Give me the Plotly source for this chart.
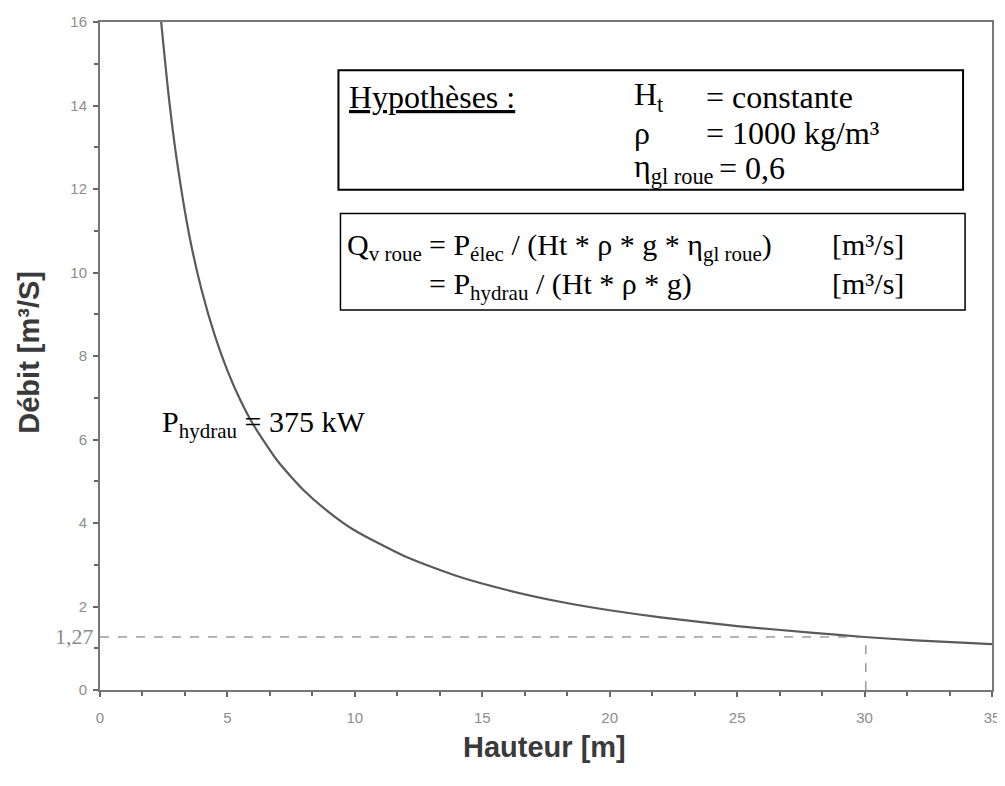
import plotly.graph_objects as go

# Curve: Hauteur [m] vs Débit [m³/s]
hauteur = [2.4, 2.7, 3.0, 3.5, 4.0, 4.5, 5.0, 5.5, 6.0, 7.0, 8.0, 9.0, 10.0,
           12.0, 14.0, 16.0, 18.0, 20.0, 22.0, 25.0, 28.0, 30.0, 32.0, 35.0]
debit = [16.0, 14.2, 12.75, 10.9, 9.55, 8.5, 7.65, 6.95, 6.37, 5.46, 4.78, 4.25, 3.82,
         3.19, 2.73, 2.39, 2.12, 1.91, 1.74, 1.53, 1.37, 1.27, 1.19, 1.1]

# Marked operating point
point_h = [30.05]
point_q = [1.27]

x_ticks = [0, 5, 10, 15, 20, 25, 30, 35]
y_ticks = [0, 2, 4, 6, 8, 10, 12, 14, 16]

# the page has an 8px body margin: figure origin sits at (8, 8) in the window
OFF = 8
W, H = 1005 - OFF, 786 - OFF
PLOT_L, PLOT_R, PLOT_T, PLOT_B = 100, 994, 13, 690  # window pixels
L = PLOT_L - OFF
T = PLOT_T - OFF
R = W - (PLOT_R - OFF)
B = H - (PLOT_B - OFF)
PW, PH = W - L - R, H - T - B


def px(x):
    return (x - OFF - L) / PW


def py(y):
    return (H - B - (y - OFF)) / PH


fig = go.Figure()

fig.add_trace(go.Scatter(
    x=hauteur, y=debit, mode="lines",
    line=dict(color="#5a5a5a", width=2.2, shape="spline", smoothing=0.6),
    hoverinfo="x+y", showlegend=False,
))

# dashed guide lines to the marked point
fig.add_trace(go.Scatter(
    x=[0, point_h[0], point_h[0]], y=[point_q[0], point_q[0], 0], mode="lines",
    line=dict(color="#6a6a6a", width=1, dash="dash"),
    hoverinfo="skip", showlegend=False,
))

serif = "Liberation Serif, Times New Roman, serif"
FS = 32
ann = []


def txt(text, x, y, size=FS, color="black", xanchor="left", yanchor="middle", font=serif):
    ann.append(dict(text=text, x=px(x), y=py(y), xref="paper", yref="paper",
                    xanchor=xanchor, yanchor=yanchor, align="left", showarrow=False,
                    font=dict(family=font, size=size, color=color)))


# Box 1
txt("<u>Hypothèses :</u>", 348, 89)
txt("H<sub>t</sub>", 633, 89)
txt("= constante", 705, 89)
txt("ρ", 633, 126)
txt("= 1000 kg/m³", 705, 126)
txt("η<sub>gl roue</sub>", 633, 161)
txt("= 0,6", 718, 161)

# Box 2
txt("Q<sub>v roue</sub>", 346, 220, size=30, yanchor="top")
txt("= P<sub>élec</sub> / (Ht * ρ * g * η<sub>gl roue</sub>)<br>= P<sub>hydrau</sub> / (Ht * ρ * g)",
    428, 220, size=30, yanchor="top")
txt("[m³/s]<br>[m³/s]", 832, 220, size=30, yanchor="top")

# curve label
txt("P<sub>hydrau</sub> = 375 kW", 160, 420, size=30)

# 1,27 label
txt("1,27", 96, 636, size=22, color="#8a8a8a", xanchor="right")

# axis titles
sans = "Liberation Sans, Arial, sans-serif"
ann.append(dict(text="<b>Hauteur [m]</b>", x=px(545), y=py(748), xref="paper", yref="paper",
                xanchor="center", yanchor="middle", showarrow=False,
                font=dict(family=sans, size=29, color="#3a3a3a")))
ann.append(dict(text="<b>Débit [m³/S]</b>", x=px(28), y=py(348), xref="paper", yref="paper",
                xanchor="center", yanchor="middle", showarrow=False, textangle=-90,
                font=dict(family=sans, size=29, color="#3a3a3a")))

shapes = [
    dict(type="rect", xref="paper", yref="paper", x0=px(339), x1=px(965), y0=py(62), y1=py(183),
         line=dict(color="black", width=2), fillcolor="white", layer="below"),
    dict(type="rect", xref="paper", yref="paper", x0=px(341), x1=px(967), y0=py(207), y1=py(305),
         line=dict(color="black", width=1.5), fillcolor="white", layer="below"),
]

axis_common = dict(
    showgrid=False, zeroline=False, showline=True, mirror=True,
    linecolor="#777777", linewidth=2, ticks="outside", ticklen=5,
    tickcolor="#666666", tickwidth=1.5, ticklabeloverflow="allow",
    tickfont=dict(family=sans, size=15, color="#8c8c8c"),
)

fig.update_layout(
    width=W, height=H,
    margin=dict(l=L, r=R, t=T, b=B),
    paper_bgcolor="white", plot_bgcolor="white",
    annotations=ann, shapes=shapes,
    xaxis=dict(range=[0, 35], tickvals=x_ticks, ticktext=[str(v) for v in x_ticks],
               ticklabelstandoff=8,
               minor=dict(dtick=5 / 3, tick0=0, ticks="outside", ticklen=4, tickcolor="#666666"),
               **axis_common),
    yaxis=dict(range=[0, 16], tickvals=y_ticks, ticktext=[str(v) for v in y_ticks],
               ticklabelstandoff=3,
               minor=dict(dtick=1, tick0=0, ticks="outside", ticklen=4, tickcolor="#666666"),
               **axis_common),
)

fig.write_html("out.html")
